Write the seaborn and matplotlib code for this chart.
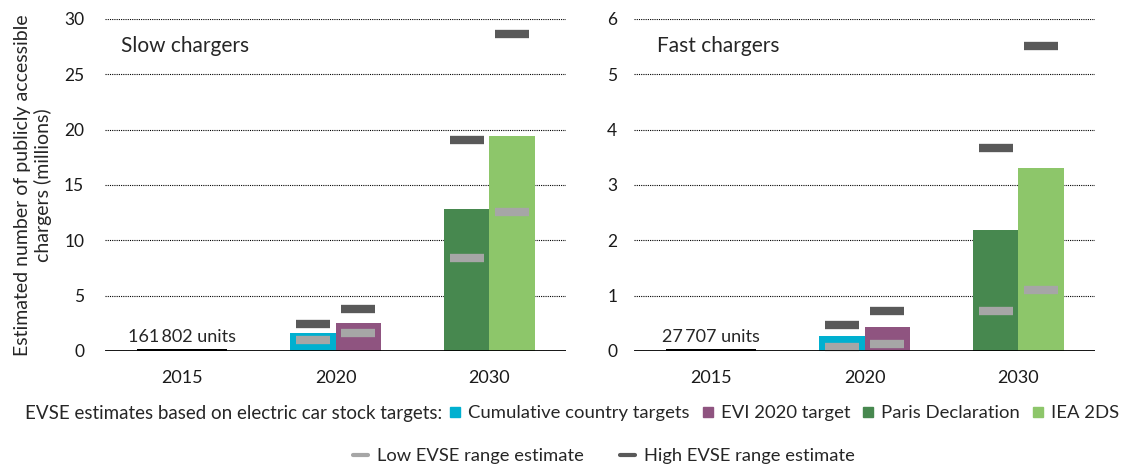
import numpy as np
import pandas as pd
import matplotlib
matplotlib.use("Agg")
import matplotlib.pyplot as plt
from matplotlib.lines import Line2D
import seaborn as sns

# Data (millions of chargers)
years = ["2015", "2020", "2030"]
series = ["2015 stock", "Cumulative country targets", "EVI 2020 target",
          "Paris Declaration", "IEA 2DS"]
series_year = ["2015", "2020", "2020", "2030", "2030"]

slow_values = [0.161802, 1.6, 2.55, 12.8, 19.4]
slow_low = [np.nan, 1.0, 1.6, 8.4, 12.6]
slow_high = [np.nan, 2.45, 3.8, 19.1, 28.6]

fast_values = [0.027707, 0.27, 0.43, 2.19, 3.31]
fast_low = [np.nan, 0.08, 0.13, 0.73, 1.11]
fast_high = [np.nan, 0.47, 0.73, 3.67, 5.52]

slow_ticks = [0, 5, 10, 15, 20, 25, 30]
fast_ticks = [0, 1, 2, 3, 4, 5, 6]
stock_labels = ["161\u2009802 units", "27\u2009707 units"]

palette = {
    "2015 stock": "#000000",
    "Cumulative country targets": "#00B0D0",
    "EVI 2020 target": "#8F5480",
    "Paris Declaration": "#47884F",
    "IEA 2DS": "#8DC66A",
}
low_color = "#A6A6A6"
high_color = "#595959"

sns.set_style("white")
plt.rcParams["font.family"] = ["Lato", "DejaVu Sans"]


def make_df(values, low, high):
    return pd.DataFrame({"year": series_year, "series": series,
                         "value": values, "low": low, "high": high})


def draw_panel(ax, df, ticks, title, stock_label, pad):
    for yr in years:
        sub = df[df["year"] == yr]
        sns.barplot(data=sub, x="year", y="value", hue="series", order=years,
                    hue_order=list(sub["series"]), palette=palette, width=0.59,
                    saturation=1, errorbar=None, linewidth=0, legend=False,
                    ax=ax, zorder=2)
        marks = sub.dropna(subset=["low"])
        if len(marks) < 2:
            continue
        for col, colr in (("low", low_color), ("high", high_color)):
            sns.pointplot(data=marks, x="year", y=col, hue="series", order=years,
                          hue_order=list(marks["series"]),
                          palette={s: colr for s in marks["series"]},
                          dodge=0.295, errorbar=None, markers="_",
                          linestyles="none", markersize=24,
                          markeredgewidth=6, legend=False, ax=ax)
    for ln in ax.lines:
        ln.set_zorder(4)
    ax.axhline(0, color="black", lw=2, zorder=5)
    ax.set_xlim(-0.5, 2.5)
    ax.set_ylim(ticks[0], ticks[-1])
    ax.set_yticks(ticks)
    ax.set_axisbelow(True)
    ax.yaxis.grid(True, linestyle=(0, (1, 1)), color="black", lw=0.8)
    ax.xaxis.grid(False)
    sns.despine(ax=ax, left=True, bottom=True)
    ax.tick_params(axis="both", length=0, labelsize=12.5, colors="#1a1a1a")
    ax.tick_params(axis="x", labelsize=13, pad=14)
    ax.tick_params(axis="y", pad=pad)
    ax.set_xlabel("")
    ax.set_ylabel("")
    ax.text(0.035 if "Slow" in title else 0.05, 0.92, title,
            transform=ax.transAxes, fontsize=15, va="center", ha="left")
    ax.annotate(stock_label, xy=(0, df["value"].iloc[0]), xytext=(0, 3),
                textcoords="offset points", ha="center", va="bottom",
                fontsize=13)


fig = plt.figure(figsize=(11.26, 4.67), dpi=100)
ax1 = fig.add_axes([0.0933, 0.2484, 0.4094, 0.711])
ax2 = fig.add_axes([0.5631, 0.2484, 0.4094, 0.711])

draw_panel(ax1, make_df(slow_values, slow_low, slow_high), slow_ticks,
           "Slow chargers", stock_labels[0], 15)
draw_panel(ax2, make_df(fast_values, fast_low, fast_high), fast_ticks,
           "Fast chargers", stock_labels[1], 12)

fig.text(0.029, 0.604,
         "Estimated number of publicly accessible\nchargers (millions)",
         rotation=90, ha="center", va="center", multialignment="center",
         fontsize=14, linespacing=1.2)

# Legend row 1
fig.text(25 / 1126, 1 - 413 / 467,
         "EVSE estimates based on electric car stock targets:",
         ha="left", va="center", fontsize=13.5)
bar_handles = [Line2D([], [], marker="s", linestyle="none", markersize=7.5,
                      color=palette[s]) for s in series[1:]]
fig.legend(bar_handles, series[1:], loc="center left",
           bbox_to_anchor=(449 / 1126, 1 - 413 / 467), ncol=4, frameon=False,
           fontsize=13.3, handlelength=0.7, handletextpad=0.35,
           columnspacing=0.62, borderpad=0, borderaxespad=0)

# Legend row 2
range_handles = [Line2D([], [], color=low_color, lw=3),
                 Line2D([], [], color=high_color, lw=3)]
fig.legend(range_handles, ["Low EVSE range estimate", "High EVSE range estimate"],
           loc="center", bbox_to_anchor=(604 / 1126, 1 - 456 / 467), ncol=2,
           frameon=False, fontsize=13.2, handlelength=0.8, handletextpad=0.5,
           columnspacing=1.95, borderpad=0, borderaxespad=0)

fig.savefig("out.png", dpi=100)
